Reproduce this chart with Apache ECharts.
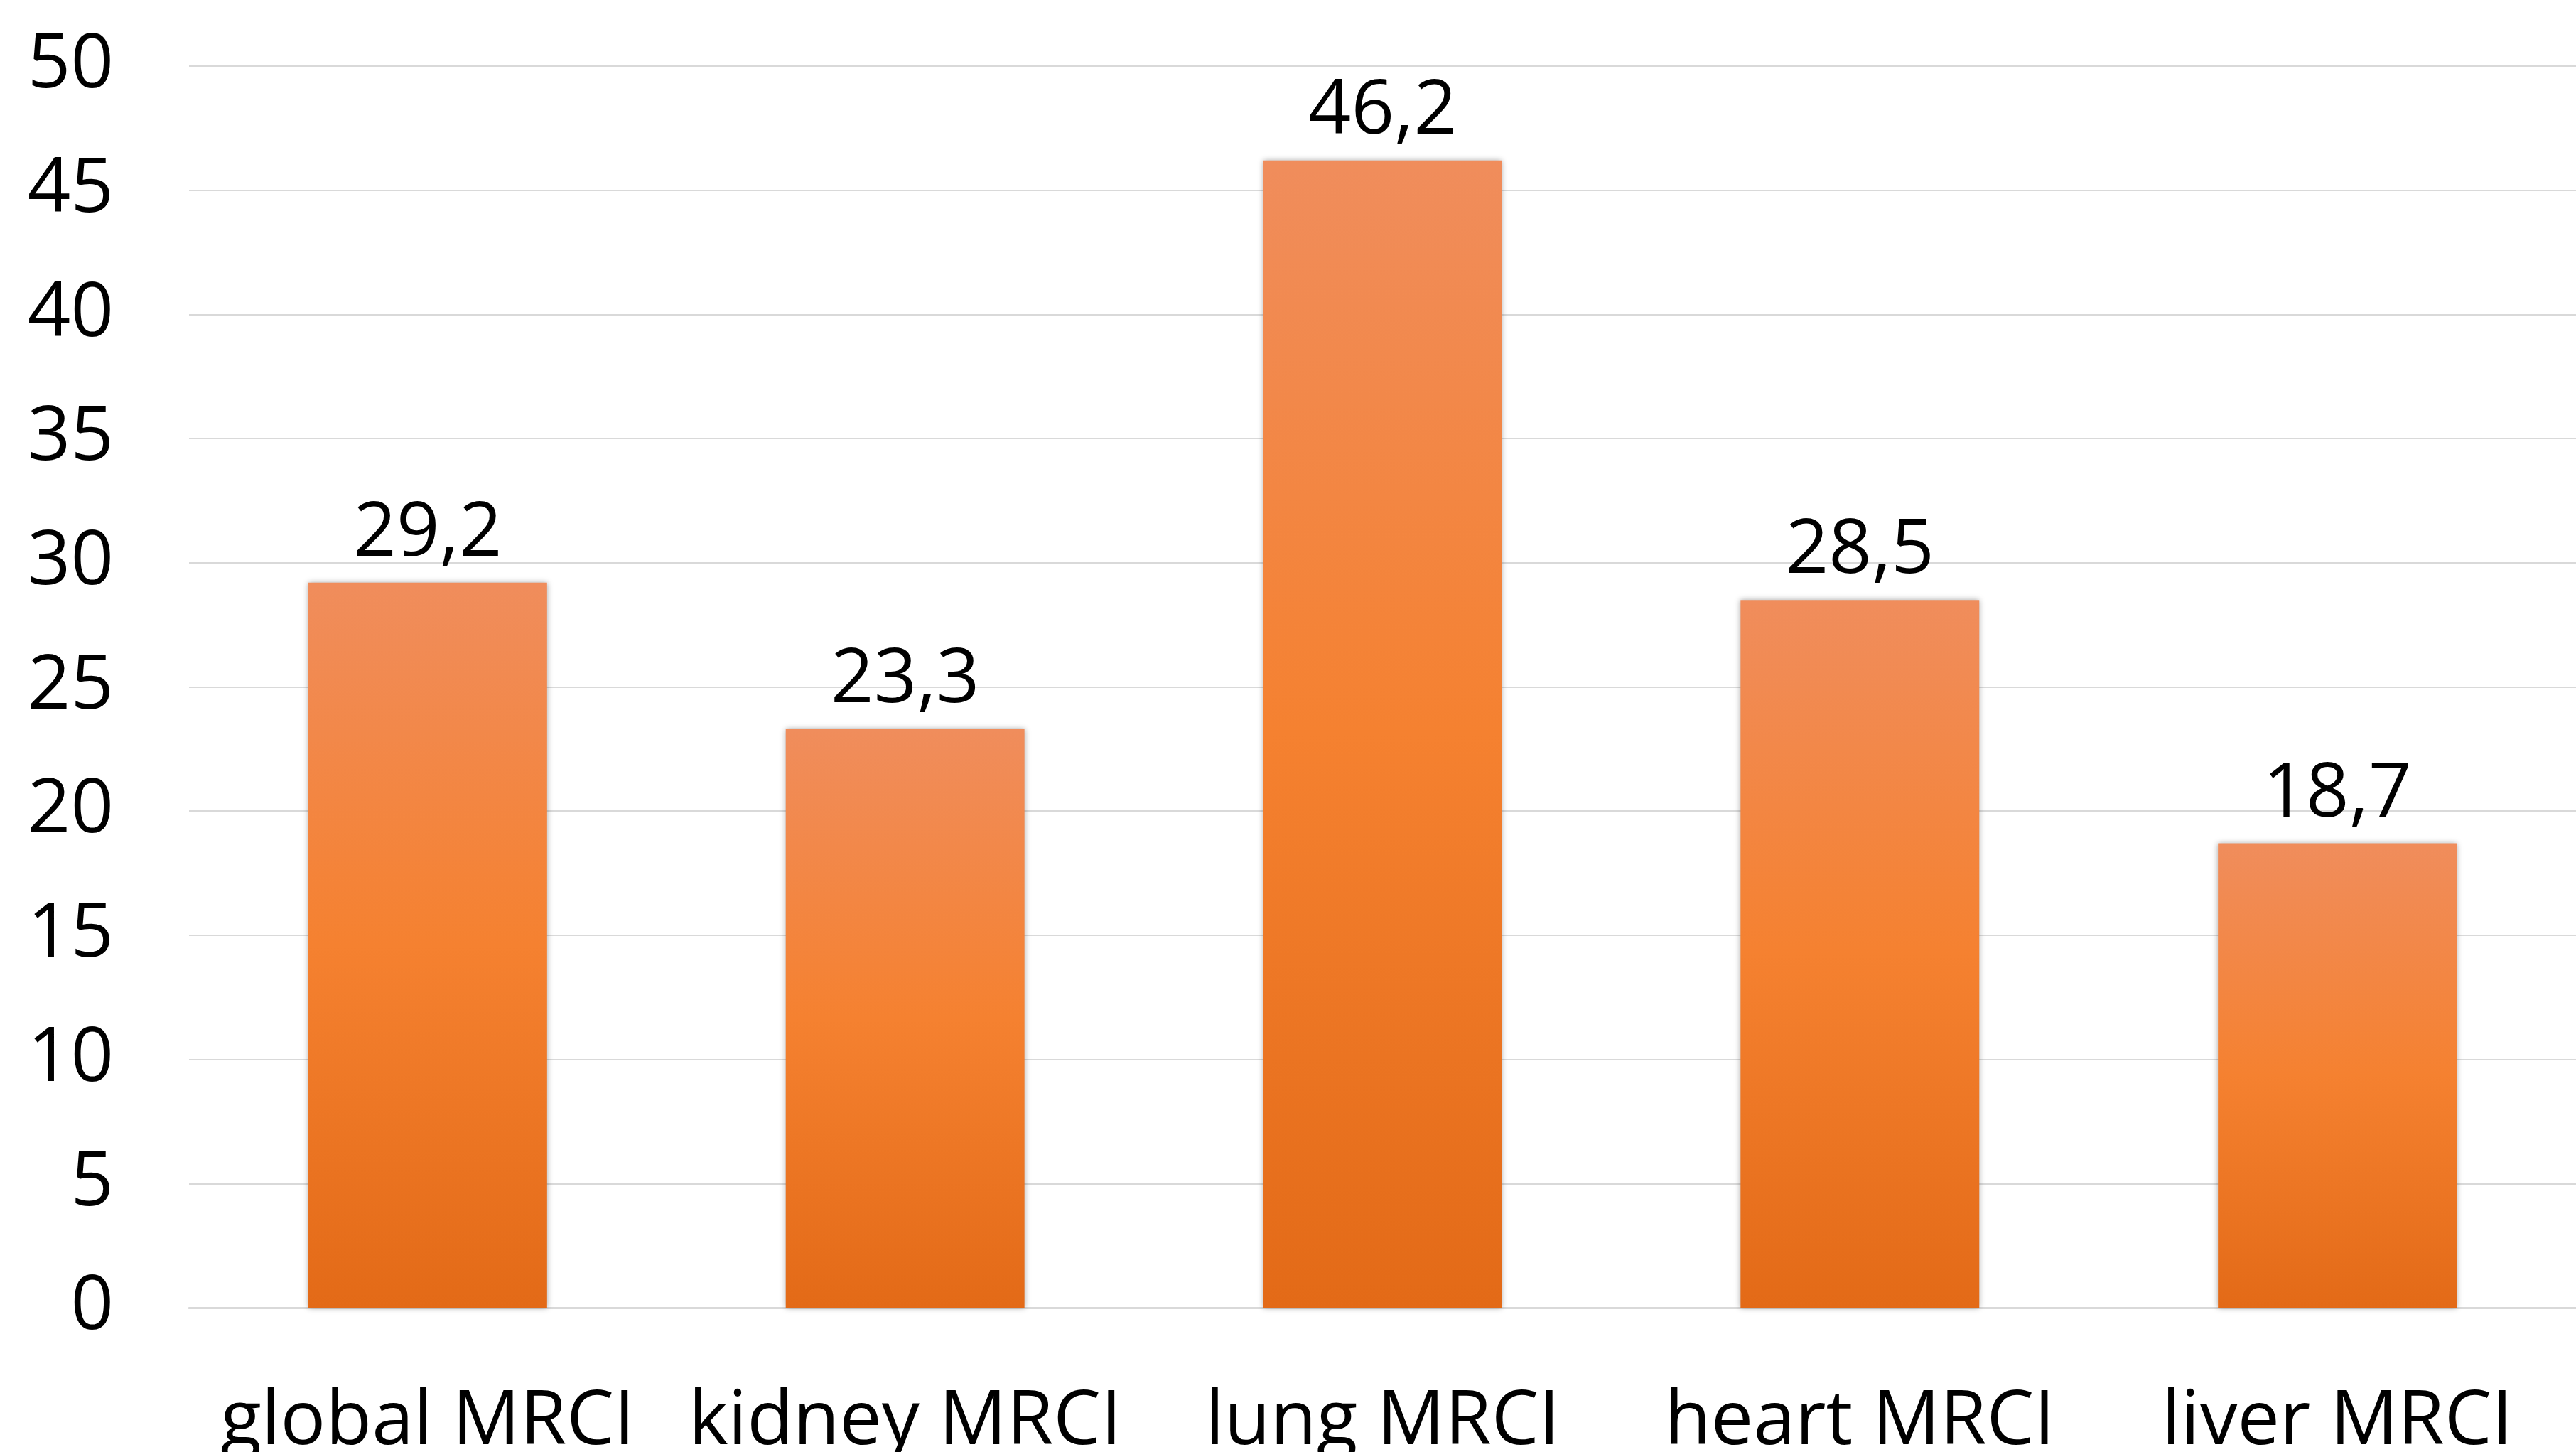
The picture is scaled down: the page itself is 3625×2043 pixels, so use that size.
<!DOCTYPE html>
<html>
<head>
<meta charset="utf-8">
<script src="https://cdn.jsdelivr.net/npm/echarts@6/dist/echarts.min.js"></script>
<style>
html,body{margin:0;padding:0;background:#fff;}
#chart{width:3625px;height:2043px;}
</style>
</head>
<body>
<div id="chart"></div>
<script>
const categories = ['global MRCI', 'kidney MRCI', 'lung MRCI', 'heart MRCI', 'liver MRCI'];
const values = [29.2, 23.3, 46.2, 28.5, 18.7];
const yTicks = [0, 5, 10, 15, 20, 25, 30, 35, 40, 45, 50];

const chart = echarts.init(document.getElementById('chart'), null, {renderer: 'canvas'});
const FONT = '"Open Sans", "Noto Sans", sans-serif';
chart.setOption({
  animation: false,
  backgroundColor: '#ffffff',
  grid: {left: 266, right: 0, top: 93, bottom: 203, containLabel: false, outerBoundsMode: 'none'},
  xAxis: {
    type: 'category',
    data: categories,
    axisLine: {show: true, lineStyle: {color: '#D9D9D9', width: 3}},
    axisTick: {show: false},
    axisLabel: {fontSize: 106, lineHeight: 106, color: '#000', fontFamily: FONT, margin: 109, interval: 0}
  },
  yAxis: {
    type: 'value',
    min: yTicks[0],
    max: yTicks[yTicks.length - 1],
    interval: 5,
    axisLine: {show: false},
    axisTick: {show: false},
    splitLine: {lineStyle: {color: '#D9D9D9', width: 2}},
    axisLabel: {fontSize: 106, color: '#000', fontFamily: FONT, margin: 106}
  },
  series: [{
    type: 'bar',
    data: values,
    barWidth: '50%',
    itemStyle: {
      color: new echarts.graphic.LinearGradient(0, 0, 0, 1, [
        {offset: 0, color: '#F08D5C'},
        {offset: 0.5, color: '#F58130'},
        {offset: 1, color: '#E36A17'}
      ]),
      shadowColor: 'rgba(0,0,0,0.35)',
      shadowBlur: 8
    },
    label: {
      show: true,
      position: 'top',
      distance: 15,
      fontSize: 106,
      lineHeight: 106,
      color: '#000',
      fontFamily: FONT,
      formatter: p => String(p.value).replace('.', ',')
    }
  }]
});
</script>
</body>
</html>
